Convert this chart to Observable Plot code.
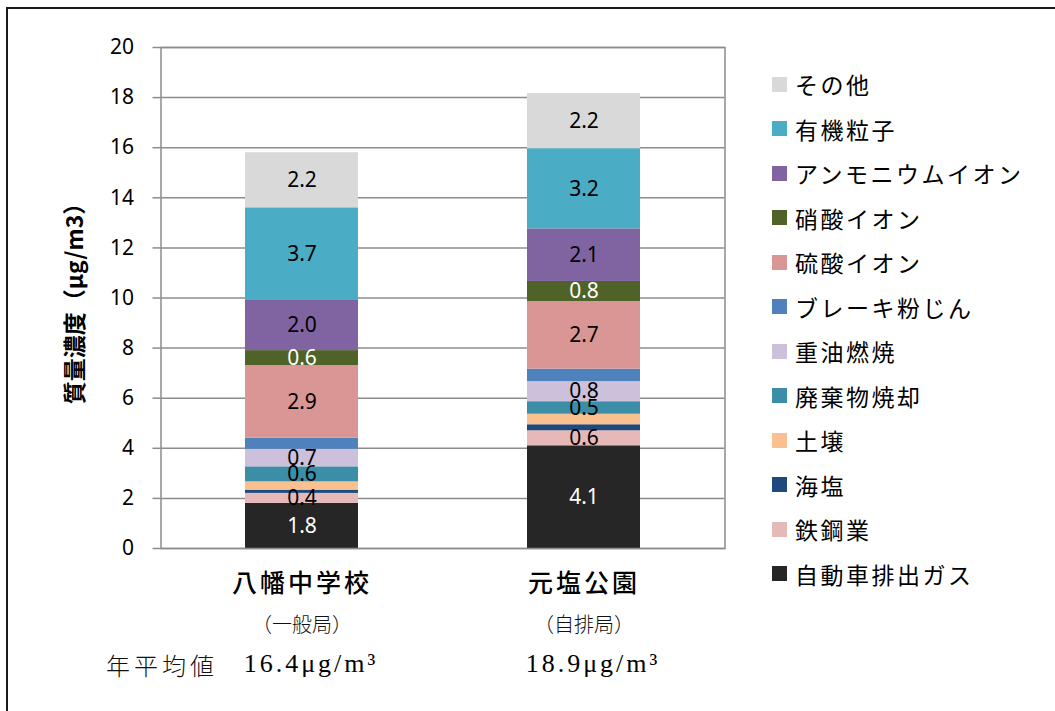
<!DOCTYPE html>
<html>
<head>
<meta charset="utf-8">
<script src="https://cdn.jsdelivr.net/npm/d3@7"></script>
<script src="https://cdn.jsdelivr.net/npm/@observablehq/plot@0.6"></script>
<style>
  html, body { margin: 0; padding: 0; background: #fff; overflow: hidden; }
  body { width: 1055px; height: 711px; position: relative; font-family: "Noto Sans CJK JP", "Noto Sans", sans-serif; }
  #border { position: absolute; left: 6px; top: 7px; width: 1100px; height: 760px; border: 2px solid #1a1a1a; box-sizing: border-box; }
  #chart { position: absolute; left: 0; top: 0; }
  #legend { position: absolute; left: 772px; top: 62px; }
  .row { height: 44.5px; display: flex; align-items: center; font-size: 23px; letter-spacing: 2.5px; color: #000; white-space: nowrap; }
  .sw { width: 15px; height: 15px; margin-right: 8px; flex: none; }
  #nenheikin { position: absolute; left: 106px; top: 647px; font-size: 24px; letter-spacing: 4px; color: #111; font-weight: 300; }
</style>
</head>
<body>
<div id="border"></div>
<div id="chart"></div>
<div id="nenheikin">年平均値</div>
<div id="legend"></div>
<script>
// ---- data ----
const sites = ["八幡中学校", "元塩公園"];
const stationTypes = ["（一般局）", "（自排局）"];
const annualMeans = ["16.4μg/m³", "18.9μg/m³"];
// stacking order, bottom to top
const sources = ["自動車排出ガス", "鉄鋼業", "海塩", "土壌", "廃棄物焼却", "重油燃焼", "ブレーキ粉じん", "硫酸イオン", "硝酸イオン", "アンモニウムイオン", "有機粒子", "その他"];
const colors  = ["#262626", "#e6b9b8", "#1f497d", "#fac090", "#3b8ea5", "#ccc0da", "#4f81bd", "#da9694", "#4f6228", "#8064a2", "#4bacc6", "#d9d9d9"];
const yawataValues   = [1.8, 0.4, 0.13, 0.33, 0.6, 0.7, 0.44, 2.9, 0.6, 2.0, 3.7, 2.2];
const motoshioValues = [4.1, 0.6, 0.24, 0.42, 0.5, 0.8, 0.5, 2.7, 0.8, 2.1, 3.2, 2.2];
const showLabel  = [true, true, false, false, true, true, false, true, true, true, true, true];
const whiteLabel = [true, false, false, false, false, false, false, false, true, false, false, false];
const yTicks = [0, 2, 4, 6, 8, 10, 12, 14, 16, 18, 20];
const yLabel = "質量濃度（μg/m3）";

// ---- table ----
const seriesValues = [yawataValues, motoshioValues];
const data = [];
sites.forEach((site, i) => {
  sources.forEach((src, j) => {
    data.push({site, source: src, value: seriesValues[i][j], label: showLabel[j] ? seriesValues[i][j].toFixed(1) : null, white: whiteLabel[j]});
  });
});
const siteRows = sites.map((s, i) => ({site: s, type: stationTypes[i], mean: annualMeans[i]}));

const gray = "#8c8c8c";
const sans = "'Noto Sans', 'Noto Sans CJK JP', sans-serif";
const cjk = "'Noto Sans CJK JP', sans-serif";

const chart = Plot.plot({
  width: 760,
  height: 711,
  marginLeft: 160.5,
  marginRight: 35.5,
  marginTop: 47,
  marginBottom: 163,
  style: {fontFamily: sans, fontSize: "21px", color: "#000", background: "transparent", overflow: "visible"},
  x: {domain: sites, paddingInner: 0.6, paddingOuter: 0.3, axis: null},
  y: {domain: [0, 20], axis: null},
  color: {domain: sources, range: colors},
  marks: [
    Plot.gridY(yTicks, {stroke: gray, strokeOpacity: 1, strokeWidth: 1.5}),
    Plot.axisY(yTicks, {tickSize: 8, tickPadding: 19, stroke: gray, strokeWidth: 1.5, fontSize: 21, label: null, fill: "#000"}),
    Plot.text([yLabel], {text: d => d, frameAnchor: "left", textAnchor: "middle", rotate: -90, dx: -85, fontSize: 23, fontWeight: "bold", fontFamily: cjk, fill: "#000"}),
    Plot.barY(data, {x: "site", y: "value", fill: "source", z: "source"}),
    Plot.text(data, Plot.stackY({x: "site", y: "value", z: "source", text: d => (d.white ? null : d.label), fill: "#000", fontSize: 21})),
    Plot.text(data, Plot.stackY({x: "site", y: "value", z: "source", text: d => (d.white ? d.label : null), fill: "#fff", fontSize: 21})),
    Plot.frame({stroke: gray, strokeWidth: 1.5}),
    Plot.text(siteRows, {x: "site", text: "site", frameAnchor: "bottom", dy: 43, fontSize: 25, fontFamily: cjk, fontWeight: 500, fill: "#000"}),
    Plot.text(siteRows, {x: "site", text: "type", frameAnchor: "bottom", dy: 83, fontSize: 20, fontFamily: cjk, fontWeight: 300, fill: "#111"}),
    Plot.text(siteRows, {x: "site", text: "mean", frameAnchor: "bottom", dy: 123, dx: 9, fontSize: 26, fontFamily: "'Liberation Serif', 'DejaVu Serif', serif", fill: "#000"})
  ]
});
document.getElementById("chart").appendChild(chart);

// letter spacing tweaks for the category texts
d3.select(chart).selectAll("text")
  .filter(function () { return sites.includes(this.textContent); })
  .style("letter-spacing", "3px");
d3.select(chart).selectAll("text")
  .filter(function () { return annualMeans.includes(this.textContent); })
  .style("letter-spacing", "3px");

// ---- legend (top to bottom = reverse stacking order) ----
const legend = document.getElementById("legend");
sources.slice().reverse().forEach((src) => {
  const row = document.createElement("div");
  row.className = "row";
  const sw = document.createElement("span");
  sw.className = "sw";
  sw.style.background = colors[sources.indexOf(src)];
  const t = document.createElement("span");
  t.textContent = src;
  row.appendChild(sw);
  row.appendChild(t);
  legend.appendChild(row);
});
</script>
</body>
</html>
